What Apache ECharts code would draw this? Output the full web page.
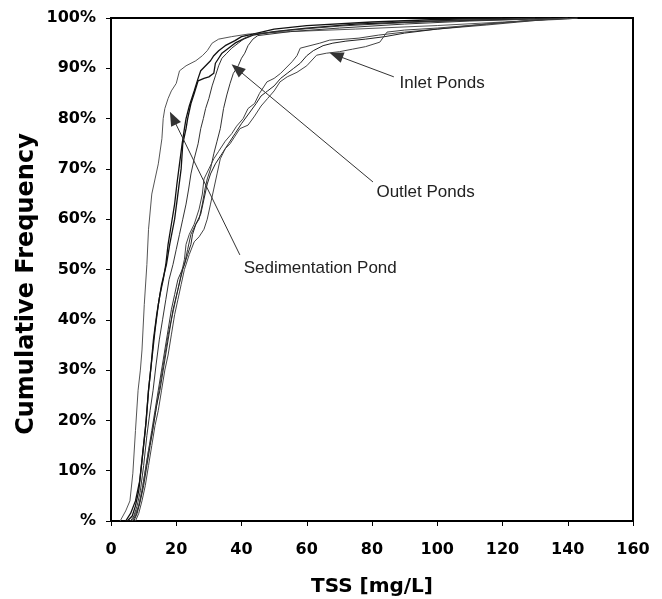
<!DOCTYPE html>
<html>
<head>
<meta charset="utf-8">
<script src="https://cdn.jsdelivr.net/npm/echarts@6/dist/echarts.min.js"></script>
<style>
html,body{margin:0;padding:0;background:#fff;}
#chart{width:662px;height:599px;}
</style>
</head>
<body>
<div id="chart"></div>
<script>
// X axis ticks and Y tick labels
var xTicks = [0, 20, 40, 60, 80, 100, 120, 140, 160];
var yTickLabels = ['%', '10%', '20%', '30%', '40%', '50%', '60%', '70%', '80%', '90%', '100%'];
var xTitle = 'TSS [mg/L]';
var yTitle = 'Cumulative Frequency';

// Cumulative frequency curves: [TSS mg/L, cumulative %]
var sedimentation = [[2.8,0],[4.5,2],[5.8,4],[6.7,9.5],[7.5,18],[8.3,26],[9,30],[9.5,34],[10.2,43],[11,51],[11.5,58],[12.5,65],[13.5,68],[14.5,71],[15.6,76],[16,80],[16.5,82],[17.5,84],[18.5,85.5],[20,87],[21,89.5],[23,90.5],[26,91.5],[28,92.5],[29.5,93.5],[31,95],[33,95.8],[37,96.3],[42,96.8],[55,97.3],[75,97.8],[100,98.5],[120,99.2],[140,99.8],[143,100]];

var outlet1 = [[5,0],[6.5,1],[7.5,3],[8.5,6],[9.5,12],[10.5,18],[11.5,26],[12.5,32],[13.5,38],[14.5,43],[15.5,47],[17,51],[18,55],[19.5,60],[20.5,65],[21.5,70],[22,75],[23,78],[23.5,80],[24.5,83],[25.5,85],[26.7,87.5],[28.5,88],[30,88.3],[31.5,89],[32,91],[33,92],[34,93],[36,94],[38,95],[40.5,95.8],[43.5,96.6],[50,97.3],[60,98],[75,98.8],[100,99.4],[125,99.8],[135,100]];

var outlet2 = [[4.5,0],[6,1.5],[7.5,4],[8.8,8],[9.8,14],[10.8,20],[11.5,26],[12.3,31],[13,36],[14,41],[15,45],[16,48],[16.8,51],[17.5,55],[18.5,59],[19.5,63],[20.2,67],[21,71],[21.8,75],[22.5,78],[23,80],[24,82.5],[25.5,85.5],[26.7,88],[27.5,89.5],[29,90.5],[30.5,91.5],[31.5,92.5],[33,93.5],[35,94.5],[38,95.5],[40,96.3],[43.5,96.8],[50,97.8],[60,98.5],[80,99.2],[100,99.7],[120,100]];

var outlet3 = [[6,0],[7,1],[8,3],[9,6],[10,11],[11,17],[12,22],[12.9,26],[13.8,31],[14.8,36],[15.8,40],[16.8,44],[17.8,48],[19,51],[20,54],[21,57],[22,60],[23,63],[23.8,66],[24.5,69],[25.5,72],[26.7,75],[27.5,78],[28.3,80],[29,82],[30,84],[31,86.5],[32,88.5],[33,90.5],[34,92],[35.5,93],[37,94],[39,95],[41,96],[44,96.8],[55,97.6],[70,98.4],[90,99.1],[110,99.6],[130,100]];

var outlet4 = [[6.5,0],[7.5,1],[8.5,3],[9.5,6],[10.5,10],[11.5,14],[12.5,18],[13.5,22],[14.5,26],[15.5,30],[16.5,34],[17.5,38],[18.5,42],[19.5,45],[20.5,48],[22.5,51],[23.5,54],[24.5,57],[26,59],[27,60],[28,63],[28.8,66],[29.5,68],[30.5,70],[31.5,73],[32.5,75.5],[33.5,78],[34.5,82],[35.5,84.7],[36.5,87],[37.5,89],[39,90.5],[40,92],[41,93],[42,94.5],[43.5,95.8],[45,96.5],[55,97.3],[70,98],[90,98.8],[110,99.4],[130,99.8],[140,100]];

var inlet1 = [[6.5,0],[7.5,1.5],[8.5,3],[9.5,6],[10.5,10],[11.5,14],[12.5,17],[13.5,21],[14.5,25],[15.5,29],[16.5,33],[17.5,37],[18.5,40],[19.5,43],[20.5,46],[21.5,49],[22.5,52],[23,55],[24,57],[25.5,59],[27,62],[28,65],[28.5,68],[30,70],[31.5,72],[33,73.5],[35,75.5],[37,77],[38.5,78.5],[40.5,80],[42,82],[44,83],[45.5,85],[47.8,87.3],[50,88],[52,89],[55.5,91.3],[57,92.5],[58,94],[61,94.5],[64,95],[67,95.6],[72,95.8],[76,96],[82,96.6],[90,97.2],[100,97.8],[115,98.6],[130,99.5],[140,100]];

var inlet2 = [[7,0],[8,1.5],[9,4],[10,7],[11,11],[12,15],[13,19],[14,23],[15,26],[16,30],[17,34],[18,38],[19,42],[20.5,46],[22,50],[23.5,53],[24.5,55],[25,57],[26,59],[27.5,61],[28.5,64],[29.5,67],[30.5,69],[32,71],[34,73],[36,75],[38,77],[40,79],[42.6,81.3],[44.5,83],[46,84.5],[48,85.5],[50,86.5],[52,88],[54,89],[56,90],[58,91],[60,92.5],[62,93.5],[65,94.5],[68,95],[72,95.4],[78,95.8],[84,96.3],[90,97],[100,97.8],[115,98.8],[130,99.6],[142,100]];

var inlet3 = [[7.5,0],[8.5,1.5],[9.5,4],[10.5,7],[11.5,11],[12.5,15],[13.5,19],[14.5,22],[15.5,26],[16.5,30],[17.5,33],[18.5,37],[19.5,41],[20.5,44],[21.5,47],[22.5,50],[24,53],[25.5,55.5],[27,56.5],[28.5,58],[29.5,60],[30.5,63],[31.5,66],[32.5,69],[33.5,72],[35,74],[36.5,75],[38,76.5],[39.5,78],[42,78.7],[44,80.5],[46,82.5],[48,84],[50,85.5],[51.8,87.3],[54,88.3],[57,89.2],[60,90.5],[63,92.6],[66,93],[70,93.3],[74,93.8],[78,94.3],[82.4,95.2],[84.6,97.2],[90,97.6],[100,98],[115,98.8],[130,99.6],[143,100]];

// Annotation labels and arrows (data coordinates)
var annotationNames = ['Inlet Ponds', 'Outlet Ponds', 'Sedimentation Pond'];
var arrowHeads = [[69,92.6],[38.6,89.9],[19,80.1]];
var arrowTails = [[86.7,88.3],[80.3,67.4],[39.5,52.9]];
var labelAnchors = [[88.3,87.1],[81.2,65.4],[40.5,50.3]];

var curves = [
  {data: sedimentation, color: '#555', width: 1},
  {data: outlet1, color: '#111', width: 1.3},
  {data: outlet2, color: '#111', width: 1.3},
  {data: outlet3, color: '#333', width: 1},
  {data: outlet4, color: '#333', width: 1},
  {data: inlet1, color: '#444', width: 1},
  {data: inlet2, color: '#222', width: 1},
  {data: inlet3, color: '#444', width: 1}
];

var BOLD = 'DejaVu Sans, Verdana, sans-serif';
var FONT = 'Liberation Sans, Arial, sans-serif';

var series = curves.map(function (c) {
  return {
    type: 'line',
    data: c.data,
    showSymbol: false,
    symbol: 'none',
    silent: true,
    lineStyle: {color: c.color, width: c.width},
    z: 2
  };
});

var mlData = annotationNames.map(function (n, i) {
  return [
    {coord: arrowTails[i], symbol: 'none'},
    {coord: arrowHeads[i], symbol: 'triangle'}
  ];
});
var mpData = annotationNames.map(function (n, i) {
  return {name: n, coord: labelAnchors[i]};
});

series.push({
  type: 'line',
  data: [],
  silent: true,
  markLine: {
    silent: true,
    animation: false,
    symbolSize: [11, 14],
    lineStyle: {color: '#333', width: 1, type: 'solid'},
    itemStyle: {color: '#000'},
    label: {show: false},
    emphasis: {disabled: true},
    data: mlData
  },
  markPoint: {
    silent: true,
    animation: false,
    symbol: 'circle',
    symbolSize: 1,
    itemStyle: {color: 'rgba(0,0,0,0)'},
    label: {
      show: true,
      position: 'right',
      distance: 0,
      formatter: '{b}',
      color: '#222',
      fontSize: 17,
      fontFamily: FONT
    },
    data: mpData
  }
});

var chart = echarts.init(document.getElementById('chart'));
chart.setOption({
  animation: false,
  backgroundColor: '#fff',
  grid: {left: 111, right: 29, top: 18, bottom: 78, show: true, borderColor: '#000', borderWidth: 2, containLabel: false, outerBoundsMode: 'none'},
  graphic: [{
    type: 'text',
    x: 27,
    y: 284,
    rotation: Math.PI / 2,
    style: {
      text: yTitle,
      fill: '#000',
      font: 'bold 24px ' + BOLD,
      align: 'center',
      verticalAlign: 'middle'
    }
  }],
  xAxis: {
    type: 'value',
    min: xTicks[0],
    max: xTicks[xTicks.length - 1],
    interval: 20,
    name: xTitle,
    nameLocation: 'middle',
    nameGap: 56,
    nameTextStyle: {fontSize: 20, fontWeight: 'bold', color: '#000', fontFamily: BOLD},
    axisLine: {show: true, lineStyle: {color: '#000', width: 2}},
    axisTick: {show: true, length: 5, lineStyle: {color: '#000', width: 1}},
    axisLabel: {fontSize: 16, fontWeight: 'bold', color: '#000', margin: 21, fontFamily: BOLD},
    splitLine: {show: false}
  },
  yAxis: {
    type: 'value',
    min: 0,
    max: 100,
    interval: 10,
    axisLine: {show: true, lineStyle: {color: '#000', width: 2}},
    axisTick: {show: true, length: 5, lineStyle: {color: '#000', width: 1}},
    axisLabel: {
      fontSize: 16, fontWeight: 'bold', color: '#000', margin: 15, fontFamily: BOLD,
      formatter: function (v) { return yTickLabels[Math.round(v / 10)]; }
    },
    splitLine: {show: false}
  },
  series: series
});
</script>
</body>
</html>
